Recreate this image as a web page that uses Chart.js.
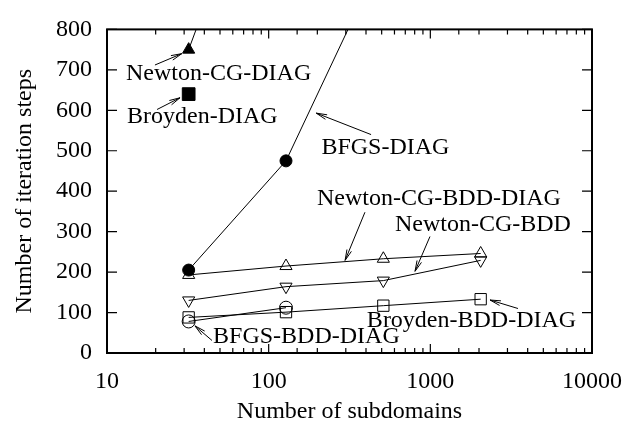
<!DOCTYPE html>
<html>
<head>
<meta charset="utf-8">
<script src="https://cdn.jsdelivr.net/npm/chart.js@4/dist/chart.umd.min.js"></script>
<style>
  html, body { margin: 0; padding: 0; background: #fff; }
  canvas { display: block; }
</style>
</head>
<body>
<canvas id="c" width="637" height="427"></canvas>
<script>
// number of subdomains (x values)
const subdomains = [32, 128, 512, 2048];

// iteration steps per method
const bfgsDiag        = [205, 475, 985];
const newtonCgDiag    = [750, 1400];
const broydenDiag     = [640];
const newtonCgBddDiag = [193, 215, 233, 246];
const newtonCgBdd     = [130, 164, 179, 229];
const broydenBddDiag  = [88, 101, 117, 133];
const bfgsBddDiag     = [78, 112];

const yTicks = [0, 100, 200, 300, 400, 500, 600, 700, 800];

// labels with arrows, in data coordinates
const notes = [
  { text: 'Newton-CG-DIAG',     at: [13.1, 690], from: [19.8, 712], to: [29, 740] },
  { text: 'Broyden-DIAG',       at: [13.3, 583], from: [20.4, 602], to: [28.3, 631] },
  { text: 'BFGS-DIAG',          at: [212, 508],  from: [430, 540],  to: [197, 593] },
  { text: 'Newton-CG-BDD-DIAG', at: [199, 381],  from: [394, 348],  to: [297, 229] },
  { text: 'Newton-CG-BDD',      at: [604, 317],  from: [995, 288],  to: [804, 202] },
  { text: 'Broyden-BDD-DIAG',   at: [405, 79],   from: [3484, 110], to: [2339, 131] },
  { text: 'BFGS-BDD-DIAG',      at: [45.3, 40],  from: [44.6, 31],  to: [35, 67] }
];

const FONT = '24px "Liberation Serif", "Times New Roman", serif';

function pts(vals) {
  return vals.map((v, i) => ({ x: subdomains[i], y: v }));
}

function series(vals, style, radius, filled, rotation) {
  return {
    data: pts(vals),
    borderColor: '#000',
    borderWidth: 1,
    pointStyle: style,
    pointRadius: radius,
    pointRotation: rotation || 0,
    pointBorderWidth: 1,
    pointBorderColor: '#000',
    pointBackgroundColor: filled ? '#000' : 'rgba(0,0,0,0)',
    tension: 0,
    fill: false
  };
}

const framePlugin = {
  id: 'frame',
  afterDatasetsDraw(chart) {
    const { ctx, chartArea: a, scales } = chart;
    ctx.save();
    ctx.strokeStyle = '#000';

    ctx.lineWidth = 1.2;
    ctx.beginPath();
    scales.x.ticks.forEach(t => {
      const px = scales.x.getPixelForValue(t.value);
      if (px < a.left - 0.5 || px > a.right + 0.5) return;
      const major = Math.abs(Math.log10(t.value) - Math.round(Math.log10(t.value))) < 1e-9;
      const len = major ? 9 : 5;
      ctx.moveTo(px, a.bottom); ctx.lineTo(px, a.bottom - len);
      ctx.moveTo(px, a.top); ctx.lineTo(px, a.top + len);
    });
    yTicks.forEach(v => {
      const py = scales.y.getPixelForValue(v);
      ctx.moveTo(a.left, py); ctx.lineTo(a.left + 10, py);
      ctx.moveTo(a.right, py); ctx.lineTo(a.right - 10, py);
    });
    ctx.stroke();

    ctx.lineWidth = 2;
    ctx.strokeRect(a.left, a.top, a.right - a.left, a.bottom - a.top);

    ctx.font = FONT;
    ctx.fillStyle = '#000';
    ctx.textBaseline = 'middle';
    ctx.textAlign = 'left';
    ctx.lineWidth = 1;
    notes.forEach(n => {
      const tx = scales.x.getPixelForValue(n.at[0]);
      const ty = scales.y.getPixelForValue(n.at[1]);
      ctx.fillText(n.text, tx, ty);
      const x0 = scales.x.getPixelForValue(n.from[0]);
      const y0 = scales.y.getPixelForValue(n.from[1]);
      const x1 = scales.x.getPixelForValue(n.to[0]);
      const y1 = scales.y.getPixelForValue(n.to[1]);
      const ang = Math.atan2(y1 - y0, x1 - x0);
      const hl = 11, hw = 0.22;
      ctx.beginPath();
      ctx.moveTo(x0, y0); ctx.lineTo(x1, y1);
      ctx.moveTo(x1 - hl * Math.cos(ang - hw), y1 - hl * Math.sin(ang - hw));
      ctx.lineTo(x1, y1);
      ctx.lineTo(x1 - hl * Math.cos(ang + hw), y1 - hl * Math.sin(ang + hw));
      ctx.stroke();
    });
    ctx.restore();
  }
};

const tickFont = { family: '"Liberation Serif", "Times New Roman", serif', size: 24 };

new Chart(document.getElementById('c').getContext('2d'), {
  type: 'line',
  data: {
    datasets: [
      series(bfgsDiag, 'circle', 6, true),
      series(newtonCgDiag, 'triangle', 7, true),
      series(broydenDiag, 'rect', 9, true),
      series(newtonCgBddDiag, 'triangle', 7, false),
      series(newtonCgBdd, 'triangle', 7, false, 180),
      series(broydenBddDiag, 'rect', 8, false),
      series(bfgsBddDiag, 'circle', 6.5, false)
    ]
  },
  options: {
    responsive: false,
    animation: false,
    devicePixelRatio: 1,
    layout: { padding: { top: 17, right: 45, left: 0, bottom: 0 } },
    plugins: { legend: { display: false }, tooltip: { enabled: false } },
    scales: {
      x: {
        type: 'logarithmic',
        min: 10,
        max: 10000,
        grid: { display: false, drawTicks: false },
        border: { display: false },
        ticks: {
          color: '#000',
          font: tickFont,
          padding: 14,
          maxRotation: 0,
          autoSkip: false,
          callback: v => {
            const l = Math.log10(v);
            return Math.abs(l - Math.round(l)) < 1e-9 ? String(v) : '';
          }
        },
        title: { display: true, text: 'Number of subdomains', color: '#000', font: tickFont, padding: { top: 2, bottom: 1 } },
        afterFit: s => { s.height = 74; }
      },
      y: {
        min: 0,
        max: 800,
        grid: { display: false, drawTicks: false },
        border: { display: false },
        ticks: { color: '#000', font: tickFont, padding: 15, stepSize: 100 },
        title: { display: true, text: 'Number of iteration steps', color: '#000', font: tickFont, padding: { top: 10, bottom: 0 } },
        afterFit: s => { s.width = 107; }
      }
    }
  },
  plugins: [framePlugin]
});
</script>
</body>
</html>
